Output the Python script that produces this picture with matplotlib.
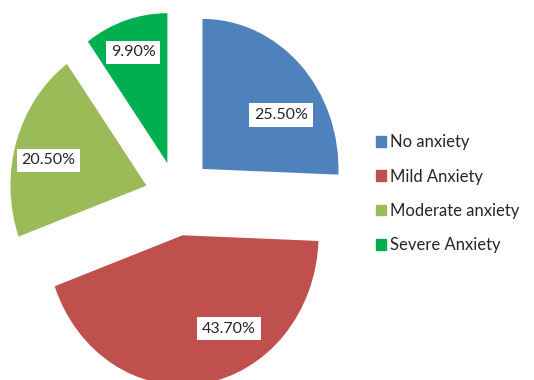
import numpy as np
import matplotlib
matplotlib.use("Agg")
import matplotlib.pyplot as plt
import matplotlib.patches as mpatches

# ---------------------------------------------------------------------------
# Data
# ---------------------------------------------------------------------------
categories = ["No anxiety", "Mild Anxiety", "Moderate anxiety", "Severe Anxiety"]
percent    = [25.5, 43.7, 20.5, 9.9]
colors     = ["#4F81BD", "#C0504D", "#9BBB59", "#00B050"]

# explosion per slice and label placement (fraction of radius, angle shift)
explode     = [0.26, 0.265, 0.235, 0.23]
label_dist  = [0.68, 0.71, 0.74, 0.78]
label_shift = [-12, 20, 4, 1]

plt.rcParams["font.family"] = ["Lato", "DejaVu Sans"]

fig = plt.figure(figsize=(5.34, 3.8), dpi=100)
ax = fig.add_axes([0, 0, 1, 1])

wedges, _ = ax.pie(percent, colors=colors, startangle=90, counterclock=False,
                   explode=explode, radius=1.0,
                   wedgeprops=dict(linewidth=0))

# slightly squashed horizontally like the original
ax.set_aspect("auto")
ax.set_xlim(-177 / 136, 357 / 136)
ax.set_ylim(-184 / 150, 196 / 150)
ax.axis("off")

for w, p, d, s in zip(wedges, percent, label_dist, label_shift):
    mid = np.deg2rad((w.theta1 + w.theta2) / 2 + s)
    cx, cy = w.center
    ax.text(cx + d * np.cos(mid), cy + d * np.sin(mid), f"{p:.2f}%",
            ha="center", va="center", fontsize=11.5, color="#262626",
            bbox=dict(boxstyle="square,pad=0.3", fc="white", ec="none"))

handles = [mpatches.Patch(color=c, label=l) for c, l in zip(colors, categories)]
ax.legend(handles=handles, loc="center left", bbox_to_anchor=(0.697, 0.49),
          frameon=False, fontsize=12, handlelength=0.6, handleheight=0.6,
          handletextpad=0.25, labelspacing=1.1, labelcolor="#262626",
          borderaxespad=0.0, borderpad=0.2)

fig.savefig("out.png", dpi=100, facecolor="white")
